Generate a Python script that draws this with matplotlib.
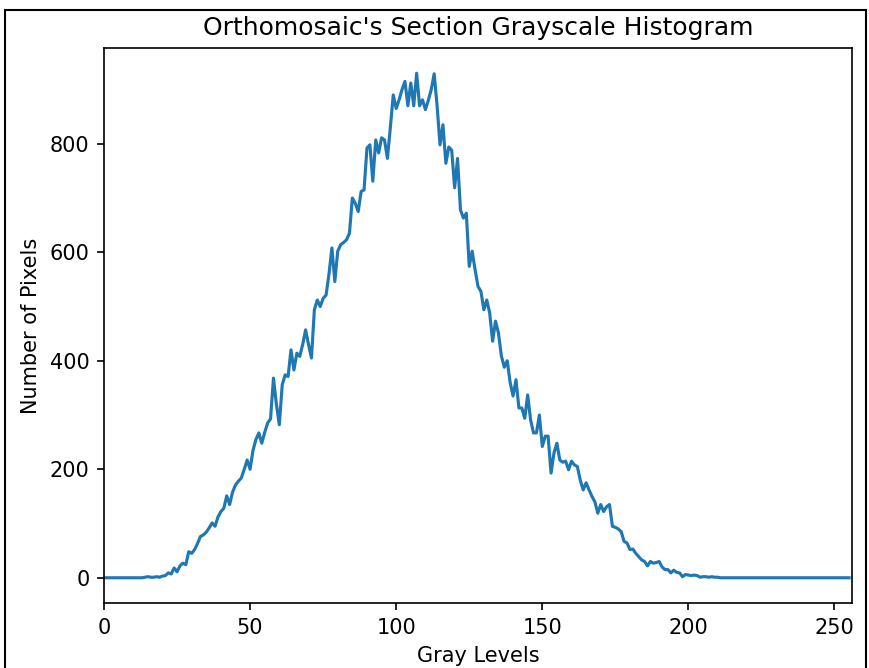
import matplotlib
matplotlib.use("Agg")
import matplotlib.pyplot as plt
import numpy as np
from matplotlib.patches import Rectangle

# pixel counts per gray level, levels 0..255
hist_values = [
    0, 0, 0, 0, 0, 0, 0, 0, 0, 0,
    0, 0, 0, 0, 1, 2, 1, 1, 2, 1,
    3, 4, 9, 7, 18, 11, 22, 27, 24, 48,
    45, 52, 63, 76, 79, 84, 92, 101, 95, 112,
    122, 128, 151, 135, 158, 171, 178, 184, 200, 217,
    200, 235, 255, 267, 248, 268, 285, 293, 368, 320,
    282, 356, 374, 371, 420, 383, 414, 408, 430, 457,
    430, 405, 494, 512, 500, 515, 521, 560, 608, 546,
    602, 614, 618, 623, 635, 700, 690, 675, 712, 715,
    792, 798, 731, 807, 783, 811, 807, 773, 830, 890,
    865, 881, 900, 915, 870, 912, 870, 930, 870, 881,
    863, 880, 900, 929, 870, 798, 835, 764, 794, 788,
    719, 773, 678, 663, 672, 574, 602, 568, 537, 528,
    494, 512, 488, 436, 473, 451, 409, 388, 400, 360,
    335, 365, 313, 313, 294, 337, 291, 267, 267, 300,
    242, 261, 261, 193, 230, 248, 217, 213, 215, 199,
    215, 208, 205, 180, 162, 175, 162, 150, 140, 119,
    135, 122, 131, 135, 95, 93, 90, 85, 67, 64,
    52, 53, 45, 39, 33, 30, 22, 30, 27, 28,
    30, 20, 15, 15, 9, 14, 10, 9, 2, 6,
    5, 4, 5, 4, 1, 2, 2, 1, 2, 1,
    1, 0, 0, 0, 0, 0, 0, 0, 0, 0,
    0, 0, 0, 0, 0, 0, 0, 0, 0, 0,
    0, 0, 0, 0, 0, 0, 0, 0, 0, 0,
    0, 0, 0, 0, 0, 0, 0, 0, 0, 0,
    0, 0, 0, 0, 0, 0,
]

W, H, DPI = 869, 668, 150
fig = plt.figure(figsize=(W / DPI, H / DPI), dpi=DPI)
ax = fig.add_axes([104 / W, 65 / H, 748 / W, 555 / H])

ax.plot(np.arange(len(hist_values)), hist_values)
ax.set_xlim([0, 256])
ax.set_title("Orthomosaic's Section Grayscale Histogram")
ax.set_xlabel("Gray Levels")
ax.set_ylabel("Number of Pixels")

# screenshot frame around the figure
fig.add_artist(Rectangle((5 / W, -0.2), 861 / W, 1.2 - 10 / H,
                         transform=fig.transFigure, fill=False,
                         edgecolor="black", linewidth=1.0))

fig.savefig("out.png", dpi=DPI)
